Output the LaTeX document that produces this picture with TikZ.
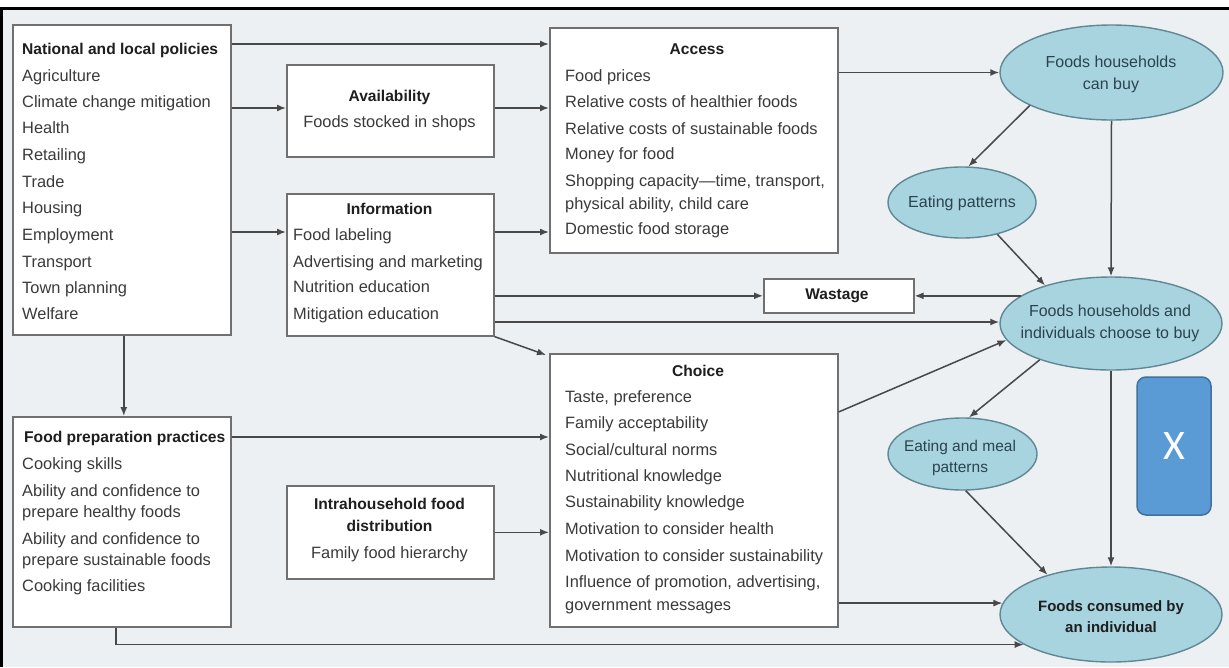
\documentclass[tikz,border=0pt]{standalone}
\usepackage{fontspec}
\setmainfont{Liberation Sans}
\newfontfamily\xfont{Carlito}
\usetikzlibrary{arrows.meta,shapes.geometric}
\definecolor{bgc}{RGB}{236,240,242}
\definecolor{boxc}{RGB}{112,112,112}
\definecolor{linec}{RGB}{72,72,72}
\definecolor{txtc}{RGB}{58,58,58}
\definecolor{ttlc}{RGB}{30,30,30}
\definecolor{ellf}{RGB}{168,212,224}
\definecolor{elld}{RGB}{95,135,148}
\definecolor{ellt}{RGB}{42,68,78}
\definecolor{xf}{RGB}{91,155,213}
\definecolor{xd}{RGB}{65,113,156}
\begin{document}
\begin{tikzpicture}[x=1pt,y=-1pt,
  box/.style={draw=boxc, fill=white, line width=1.6pt, inner sep=0pt, anchor=north west, rectangle},
  it/.style={anchor=west, inner sep=0pt, text=txtc, font=\fontsize{16.4}{18}\selectfont, text height=11.5pt, text depth=3.5pt},
  ttl/.style={anchor=center, inner sep=0pt, text=ttlc, font=\fontsize{15.6}{18}\selectfont\bfseries, text height=11.5pt, text depth=3.5pt},
  ell/.style={ellipse, draw=elld, fill=ellf, line width=1.4pt, inner sep=0pt},
  etx/.style={align=center, text=ellt, inner sep=0pt, font=\fontsize{16}{22}\selectfont},
  arr/.style={draw=linec, line width=1.5pt, -{Latex[length=9pt,width=7pt]}}]
% background and frame
\fill[white] (0,0) rectangle (1229,667);
\fill[bgc] (0,10) rectangle (1229,667);
\fill[black] (0,7) rectangle (1229,10);
\fill[black] (0,7) rectangle (3,667);
\useasboundingbox (0,0) rectangle (1229,667);

% boxes
\node[box, minimum width=218pt, minimum height=310pt] (nat) at (12,24) {};
\node[box, minimum width=207pt, minimum height=92pt] (avail) at (286,64) {};
\node[box, minimum width=207pt, minimum height=142pt] (info) at (286,193) {};
\node[box, minimum width=288pt, minimum height=225pt] (access) at (549,27) {};
\node[box, minimum width=150pt, minimum height=34pt] (waste) at (763,278) {};
\node[box, minimum width=288pt, minimum height=273pt] (choice) at (549,353) {};
\node[box, minimum width=218pt, minimum height=210pt] (prep) at (12,416) {};
\node[box, minimum width=207pt, minimum height=93pt] (intra) at (286,485) {};

% ellipses
\node[ell, minimum width=223pt, minimum height=95pt] (can) at (1111.5,72.5) {};
\node[ell, minimum width=148pt, minimum height=71pt] (ep) at (962,202.5) {};
\node[ell, minimum width=222pt, minimum height=93pt] (choose) at (1111,323.5) {};
\node[ell, minimum width=149pt, minimum height=72pt] (emp) at (962.5,454) {};
\node[ell, minimum width=222pt, minimum height=95pt] (cons) at (1111,614.5) {};

\node[etx] (canT) at (1111,74) {Foods households\\can buy};
\node[etx] (epT) at (962,203) {Eating patterns};
\node[etx] (chooseT) at (1110,323) {Foods households and\\individuals choose to buy};
\node[etx, font=\fontsize{15.5}{21}\selectfont] (empT) at (960,457.5) {Eating and meal\\patterns};
\node[etx, font=\fontsize{15}{21}\selectfont\bfseries, text=ttlc] (consT) at (1111,616.5) {Foods consumed by\\an individual};

% X box
\node[draw=xd, fill=xf, rounded corners=9pt, line width=1.5pt, minimum width=74pt, minimum height=138pt, inner sep=0pt, text=white, font=\xfont\fontsize{42}{42}\selectfont] (xbox) at (1174,446) {X};

% texts: national
\node[ttl, anchor=west] (natT) at (22,50) {National and local policies};
\foreach \txt/\y [count=\i] in {Agriculture/77, Climate change mitigation/103, Health/129, Retailing/156, Trade/183, Housing/209, Employment/236, Transport/263, Town planning/289, Welfare/315}
  \node[it] (nat-\i) at (22,\y) {\txt};

% availability
\node[ttl] (availT) at (389.5,97) {Availability};
\node[it, anchor=center] (avail-1) at (389.5,123) {Foods stocked in shops};

% information
\node[ttl] (infoT) at (389.5,210) {Information};
\foreach \txt/\y [count=\i] in {Food labeling/236, Advertising and marketing/263, Nutrition education/288, Mitigation education/315}
  \node[it] (info-\i) at (293,\y) {\txt};

% access
\node[ttl] (accessT) at (697,50) {Access};
\foreach \txt/\y [count=\i] in {Food prices/77, Relative costs of healthier foods/103, Relative costs of sustainable foods/130, Money for food/155, {Shopping capacity—time, transport,}/182, {physical ability, child care}/205, Domestic food storage/230}
  \node[it] (access-\i) at (565,\y) {\txt};

% wastage
\node[ttl, font=\fontsize{15.5}{18}\selectfont\bfseries] (wasteT) at (837,295) {Wastage};

% choice
\node[ttl] (choiceT) at (698,372) {Choice};
\foreach \txt/\y [count=\i] in {{Taste, preference}/398, Family acceptability/424, {Social/cultural norms}/451, Nutritional knowledge/477, Sustainability knowledge/503, Motivation to consider health/530, Motivation to consider sustainability/557, {Influence of promotion, advertising,}/583, government messages/606}
  \node[it] (choice-\i) at (565,\y) {\txt};

% food preparation
\node[ttl, anchor=west] (prepT) at (24,438) {Food preparation practices};
\foreach \txt/\y [count=\i] in {Cooking skills/465, Ability and confidence to/492, prepare healthy foods/513, Ability and confidence to/540, prepare sustainable foods/561, Cooking facilities/587}
  \node[it] (prep-\i) at (22,\y) {\txt};

% intrahousehold
\node[ttl] (intraT1) at (389.5,505) {Intrahousehold food};
\node[ttl] (intraT2) at (389.5,527) {distribution};
\node[it, anchor=center] (intra-1) at (389.5,554) {Family food hierarchy};

% connectors
\draw[arr] ([yshift=-20pt]nat.north east) -- ([yshift=-20pt]nat.north east -| access.west);
\draw[arr] ([yshift=-84pt]nat.north east) -- ([yshift=-84pt]nat.north east -| avail.west);
\draw[arr] ([yshift=-208pt]nat.north east) -- ([yshift=-208pt]nat.north east -| info.west);
\draw[arr] ([yshift=-44pt]avail.north east) -- ([yshift=-44pt]avail.north east -| access.west);
\draw[arr] ([yshift=-39pt]info.north east) -- ([yshift=-39pt]info.north east -| access.west);
\draw[arr] (waste.west -| info.east) -- (waste.west);
\draw[arr] ([yshift=-129pt]info.north east) -- ([yshift=-129pt]info.north east -| choose.west);
\draw[arr] (info.south east) -- ([xshift=-3pt,yshift=-2pt]choice.north west);
\draw[arr] ([xshift=2pt]nat.south) -- ([xshift=2pt]nat.south |- prep.north);
\draw[arr] ([yshift=-21pt]prep.north east) -- ([yshift=-21pt]prep.north east -| choice.west);
\draw[arr] (intra.east) -- (intra.east -| choice.west);
\draw[arr] ([xshift=-6pt]prep.south) |- (cons.199);
\draw[arr] (cons.174 -| choice.east) -- (cons.174);
\draw[arr] ([yshift=-59pt]choice.north east) -- (choose.189);
\draw[arr] (can.west -| access.east) -- (can.west);
\draw[arr] (can.202) -- (ep.80);
\draw[arr] (can.south) -- (choose.north);
\draw[arr] (ep.-42) -- (choose.150);
\draw[arr] (choose.163) -- (choose.163 -| waste.east);
\draw[arr] (choose.207) -- (emp.80);
\draw[arr] (choose.south) -- (cons.north);
\draw[arr] (emp.-85) -- (cons.148);
\end{tikzpicture}
\end{document}
